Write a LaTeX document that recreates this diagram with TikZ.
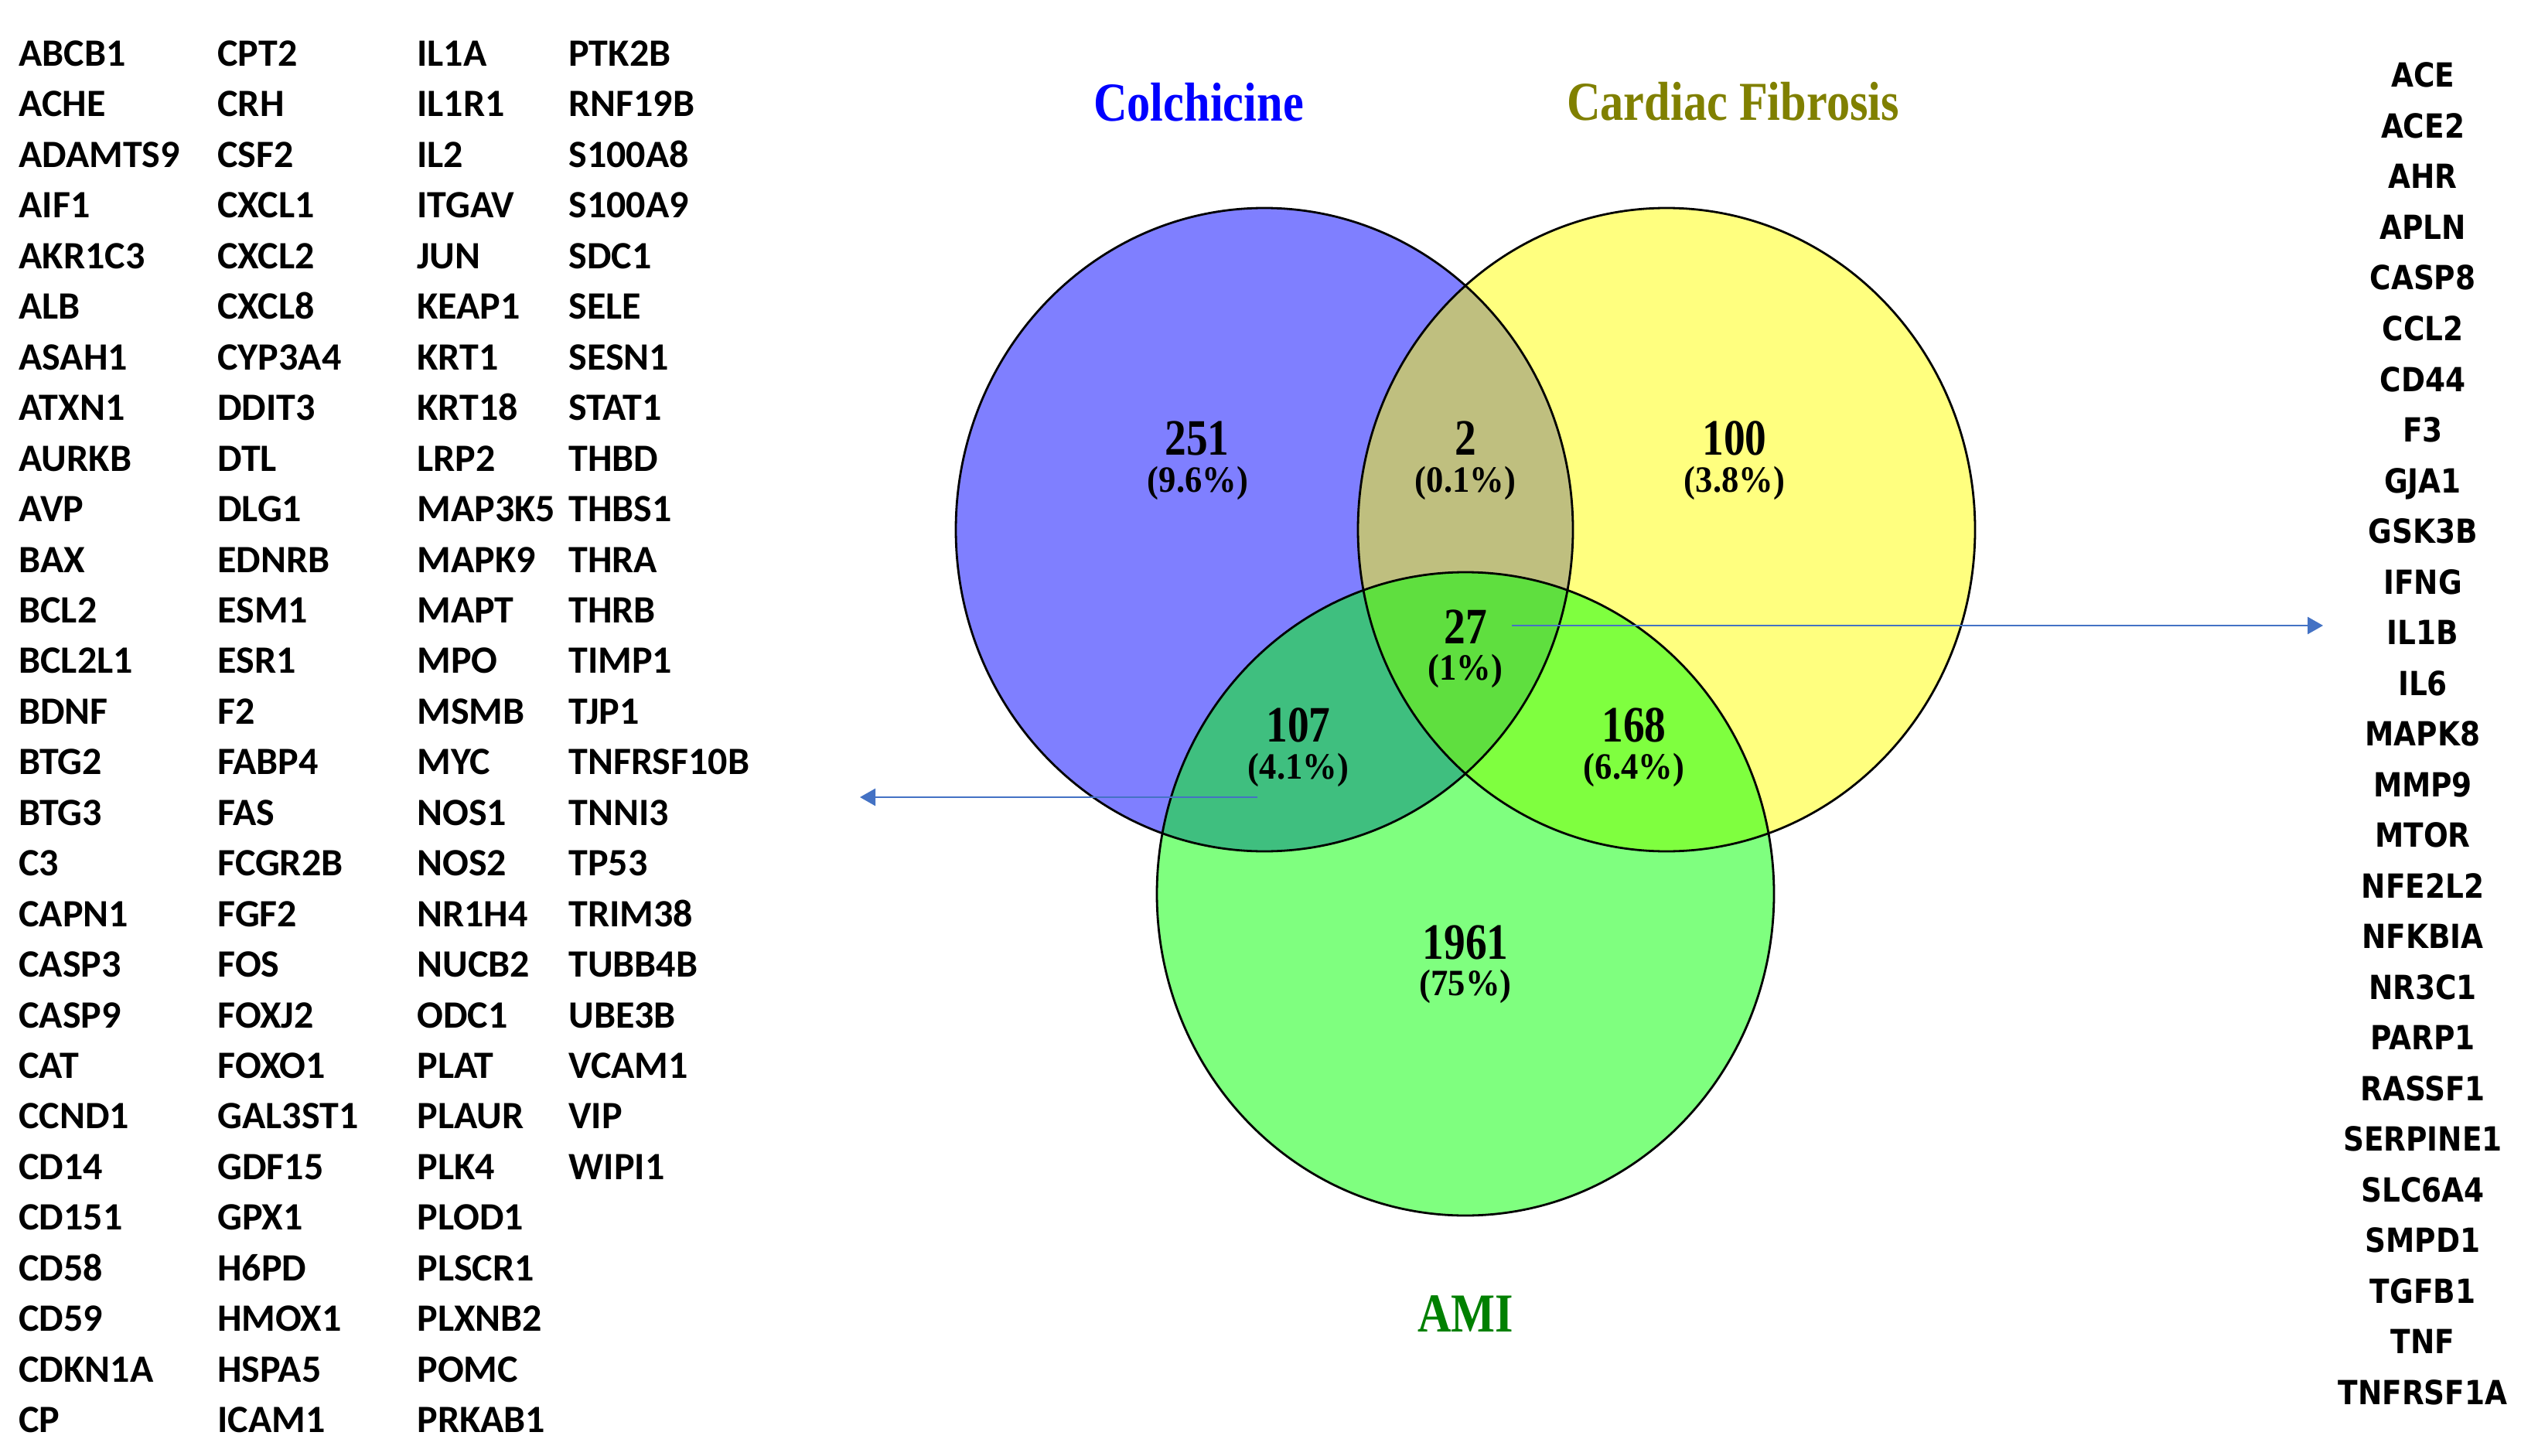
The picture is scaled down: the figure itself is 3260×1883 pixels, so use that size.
\documentclass[tikz,border=0pt]{standalone}
\usepackage{fontspec}
\usetikzlibrary{arrows.meta,shapes.geometric}
\newfontfamily\titlebold[FakeStretch=0.85]{Liberation Serif Bold}
\newfontfamily\numbold[FakeStretch=0.84]{Liberation Serif Bold}
\newfontfamily\pctbold[FakeStretch=0.93]{Liberation Serif Bold}
\newfontfamily\leftgenefont{Carlito Bold}
\newfontfamily\rightgenefont[FakeStretch=0.87]{DejaVu Sans Bold}
\definecolor{vblue}{RGB}{0,0,255}
\definecolor{vyellow}{RGB}{255,255,0}
\definecolor{vgreen}{RGB}{0,255,0}
\definecolor{tblue}{RGB}{0,0,255}
\definecolor{tolive}{RGB}{128,128,0}
\definecolor{tgreen}{RGB}{0,128,0}
\definecolor{arrowblue}{RGB}{68,114,196}
\begin{document}
\begin{tikzpicture}[x=0.5pt,y=-0.5pt,
  setfill/.style={ellipse,inner sep=0pt,minimum width=399pt,minimum height=416pt,fill opacity=0.5},
  setline/.style={line width=1.4pt,draw=black},
  title/.style={anchor=base,inner sep=0pt,font=\titlebold\fontsize{35.5pt}{40pt}\selectfont},
  count/.style={anchor=base,inner sep=0pt,font=\numbold\fontsize{33pt}{38pt}\selectfont},
  pct/.style={anchor=base,inner sep=0pt,font=\pctbold\fontsize{24pt}{28pt}\selectfont},
  lgene/.style={anchor=base west,inner sep=0pt,font=\leftgenefont\fontsize{25pt}{30pt}\selectfont},
  rgene/.style={anchor=base,inner sep=0pt,font=\rightgenefont\fontsize{21.5pt}{26pt}\selectfont},
  conn/.style={draw=arrowblue,line width=1.35pt,-{Triangle[length=10pt,width=11pt]}}
]
\useasboundingbox (0,0) rectangle (3260,1883);
\fill[white] (0,0) rectangle (3260,1883);

% set fills
\node[setfill,fill=vblue] (setC) at (1635,685) {};
\node[setfill,fill=vyellow] (setF) at (2155,685) {};
\node[setfill,fill=vgreen] (setA) at (1895,1156) {};
% outlines
\draw[setline] (setC.center) ellipse [x radius=199.5pt, y radius=208pt];
\draw[setline] (setF.center) ellipse [x radius=199.5pt, y radius=208pt];
\draw[setline] (setA.center) ellipse [x radius=199.5pt, y radius=208pt];

% titles
\node[title,text=tblue] (tC) at (1550,157) {Colchicine};
\node[title,text=tolive] (tF) at (2241,156) {Cardiac Fibrosis};
\node[title,text=tgreen] (tA) at (1895,1722) {AMI};

% counts (baselines)
\node[count] (n251) at (1548,588) {251};
\node[pct] (p251) at (1549,636) {(9.6\%)};
\node[count] (n2) at (1895,588) {2};
\node[pct] (p2) at (1895,636) {(0.1\%)};
\node[count] (n100) at (2243,588) {100};
\node[pct] (p100) at (2243,636) {(3.8\%)};
\node[count] (n27) at (1895,832) {27};
\node[pct] (p27) at (1895,879) {(1\%)};
\node[count] (n107) at (1679,959) {107};
\node[pct] (p107) at (1679,1007) {(4.1\%)};
\node[count] (n168) at (2113,959) {168};
\node[pct] (p168) at (2113,1007) {(6.4\%)};
\node[count] (n1961) at (1895,1240) {1961};
\node[pct] (p1961) at (1895,1287) {(75\%)};

% connectors
\coordinate (a27) at (1955,809);
\coordinate (a27tip) at (3004,809);
\draw[conn] (a27) -- (a27tip);
\coordinate (a107) at (1626,1031);
\coordinate (a107tip) at (1112,1031);
\draw[conn] (a107) -- (a107tip);

% left gene list
\foreach \g [count=\i] in {ABCB1,ACHE,ADAMTS9,AIF1,AKR1C3,ALB,ASAH1,ATXN1,AURKB,AVP,BAX,BCL2,BCL2L1,BDNF,BTG2,BTG3,C3,CAPN1,CASP3,CASP9,CAT,CCND1,CD14,CD151,CD58,CD59,CDKN1A,CP}
  \node[lgene] (La\i) at (24,{85.5+65.45*(\i-1)}) {\g};
\foreach \g [count=\i] in {CPT2,CRH,CSF2,CXCL1,CXCL2,CXCL8,CYP3A4,DDIT3,DTL,DLG1,EDNRB,ESM1,ESR1,F2,FABP4,FAS,FCGR2B,FGF2,FOS,FOXJ2,FOXO1,GAL3ST1,GDF15,GPX1,H6PD,HMOX1,HSPA5,ICAM1}
  \node[lgene] (Lb\i) at (281,{85.5+65.45*(\i-1)}) {\g};
\foreach \g [count=\i] in {IL1A,IL1R1,IL2,ITGAV,JUN,KEAP1,KRT1,KRT18,LRP2,MAP3K5,MAPK9,MAPT,MPO,MSMB,MYC,NOS1,NOS2,NR1H4,NUCB2,ODC1,PLAT,PLAUR,PLK4,PLOD1,PLSCR1,PLXNB2,POMC,PRKAB1}
  \node[lgene] (Lc\i) at (539,{85.5+65.45*(\i-1)}) {\g};
\foreach \g [count=\i] in {PTK2B,RNF19B,S100A8,S100A9,SDC1,SELE,SESN1,STAT1,THBD,THBS1,THRA,THRB,TIMP1,TJP1,TNFRSF10B,TNNI3,TP53,TRIM38,TUBB4B,UBE3B,VCAM1,VIP,WIPI1}
  \node[lgene] (Ld\i) at (735,{85.5+65.45*(\i-1)}) {\g};

% right gene list
\foreach \g [count=\i] in {ACE,ACE2,AHR,APLN,CASP8,CCL2,CD44,F3,GJA1,GSK3B,IFNG,IL1B,IL6,MAPK8,MMP9,MTOR,NFE2L2,NFKBIA,NR3C1,PARP1,RASSF1,SERPINE1,SLC6A4,SMPD1,TGFB1,TNF,TNFRSF1A}
  \node[rgene] (R\i) at (3133,{113+65.5*(\i-1)}) {\g};
\end{tikzpicture}
\end{document}
